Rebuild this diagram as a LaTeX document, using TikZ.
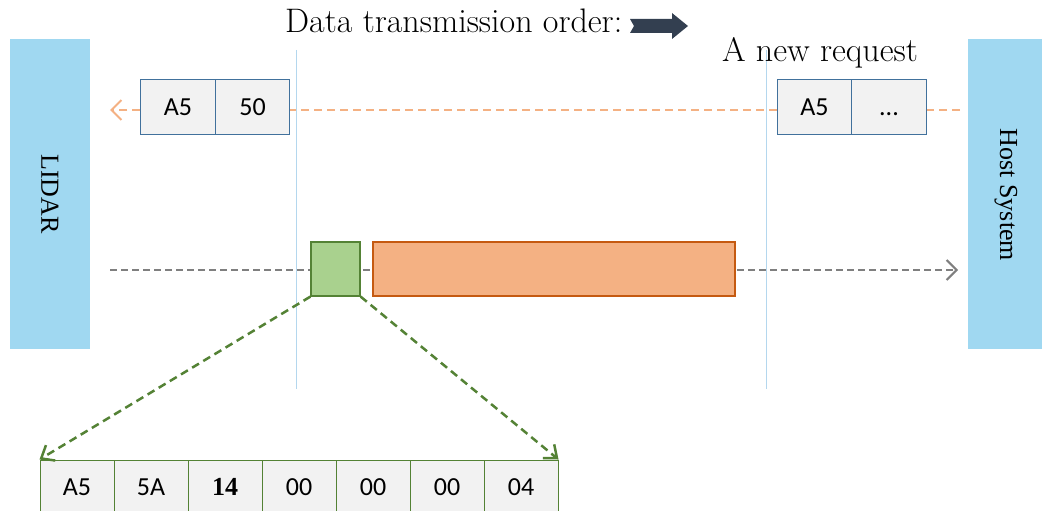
\documentclass[tikz,border=0pt]{standalone}
\usepackage{fontspec}
\setsansfont{Carlito}
\newfontfamily\timesf{Liberation Serif}
\usetikzlibrary{arrows.meta}
\definecolor{devblue}{HTML}{A0D8F1}
\definecolor{cellfill}{HTML}{F2F2F2}
\definecolor{cellborder}{HTML}{41719C}
\definecolor{greenborder}{HTML}{548235}
\definecolor{greenfill}{HTML}{A9D18E}
\definecolor{orangefill}{HTML}{F4B183}
\definecolor{orangeborder}{HTML}{C55A11}
\definecolor{reqline}{HTML}{F4B183}
\definecolor{dataline}{HTML}{7F7F7F}
\definecolor{vline}{HTML}{B4D7EE}
\definecolor{navy}{HTML}{333F50}
\begin{document}
\begin{tikzpicture}[x=1pt,y=-1pt,
  devbox/.style={fill=devblue, draw=none, minimum width=80pt, minimum height=310pt, inner sep=0pt},
  devtext/.style={rotate=-90, font=\timesf\fontsize{26}{26}\selectfont, inner sep=0pt},
  cellbox/.style={draw=cellborder, fill=cellfill, line width=1pt, minimum width=74.5pt, minimum height=54pt, inner sep=0pt, font=\sffamily\fontsize{26}{26}\selectfont},
  bytebox/.style={cellbox, draw=greenborder, minimum width=74pt},
  headbox/.style={draw=greenborder, fill=greenfill, line width=1.2pt, minimum width=49pt, minimum height=54pt, inner sep=0pt},
  bodybox/.style={draw=orangeborder, fill=orangefill, line width=1.2pt, minimum width=362pt, minimum height=54pt, inner sep=0pt},
  reqarrow/.style={draw=reqline, line width=2pt, dash pattern=on 8pt off 5pt},
  dataarrow/.style={draw=dataline, line width=2pt, dash pattern=on 7pt off 4pt},
  zoomarrow/.style={draw=greenborder, line width=2.5pt, dash pattern=on 8pt off 5pt},
  barb/.style={-{Straight Barb[length=10pt,width=20pt,line width=2pt]}},
  smallbarb/.style={-{Straight Barb[length=11pt,width=18pt,line width=2.5pt]}},
  divline/.style={draw=vline, line width=1pt},
  bigtext/.style={font=\fontsize{34}{34}\selectfont, inner sep=0pt}
]
\useasboundingbox (0,0) rectangle (1042,511);

% title
\node[bigtext, anchor=base west] (title) at (285,33) {Data transmission order:};
\fill[navy] (630,19) -- (672,19) -- (672,13) -- (688,26) -- (672,39) -- (672,33) -- (630,33) -- (634,26) -- cycle;

% devices
\node[devbox] (lidar) at (50,194) {};
\node[devtext] (lidart) at (lidar) {LIDAR};
\node[devbox] (host) at (1008,194) {};
\node[devtext] (hostt) at (1006,195) {Host System};

% divider lines
\coordinate (d1t) at (296,50); \coordinate (d1b) at (296,389);
\coordinate (d2t) at (766,50); \coordinate (d2b) at (766,389);
\draw[divline] (d1t) -- (d1b);
\draw[divline] (d2t) -- (d2b);

% request line
\coordinate (reqstart) at (960,110);
\coordinate (reqend) at (110,110);
\node[cellbox] (rsA) at (178,107) {A5};
\node[cellbox] (rsB) at (252.5,107) {50};
\node[cellbox] (rqA) at (814.5,107) {A5};
\node[cellbox] (rqB) at (889,107) {\vphantom{A5}...};
\draw[reqarrow] (reqstart) -- (reqstart -| rqB.east);
\draw[reqarrow] (reqstart -| rqA.west) -- (reqstart -| rsB.east);
\draw[reqarrow, barb] (reqstart -| rsA.west) -- (reqend);

\node[bigtext, anchor=base] (newreq) at (820,62) {A new request};

% data line
\coordinate (datastart) at (110,270);
\coordinate (dataend) at (958,270);
\draw[dataarrow, barb] (datastart) -- (dataend);
\node[headbox] (head) at (335.5,269) {};
\node[bodybox] (body) at (554,269) {};

% expanded header bytes
\node[bytebox] (b1) at (77,487) {A5};
\node[bytebox] (b2) at (151,487) {5A};
\node[bytebox] (b3) at (225,487) {\timesf\bfseries 14};
\node[bytebox] (b4) at (299,487) {00};
\node[bytebox] (b5) at (373,487) {00};
\node[bytebox] (b6) at (447,487) {00};
\node[bytebox] (b7) at (521,487) {04};

\draw[zoomarrow, smallbarb] (head.south west) -- (b1.north west);
\draw[zoomarrow, smallbarb] (head.south east) -- (b7.north east);
\end{tikzpicture}
\end{document}
